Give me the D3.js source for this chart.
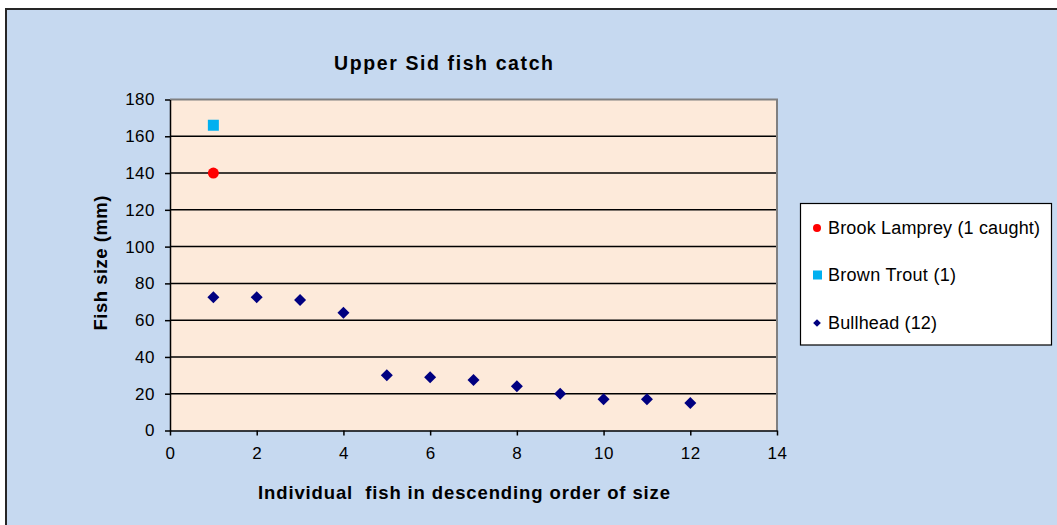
<!DOCTYPE html>
<html><head><meta charset="utf-8">
<script src="https://cdn.jsdelivr.net/npm/d3@7"></script>
<style>
html,body{margin:0;padding:0;background:#fff;overflow:hidden;}
text{font-family:"Liberation Sans",Arial,sans-serif;fill:#000;}
</style></head>
<body>
<svg id="chart" width="1057" height="525"></svg>
<script>
const title = "Upper Sid fish catch";
const xTitle = "Individual  fish in descending order of size";
const yTitle = "Fish size (mm)";
const xTicks = [0, 2, 4, 6, 8, 10, 12, 14];
const yTicks = [0, 20, 40, 60, 80, 100, 120, 140, 160, 180];

const lampreyX = [1];
const lampreyY = [140];
const troutX = [1];
const troutY = [166];
const bullheadX = [1, 2, 3, 4, 5, 6, 7, 8, 9, 10, 11, 12];
const bullheadY = [72.5, 72.5, 71, 64, 30, 29, 27.5, 24, 20, 17, 17, 15];

const seriesNames = ["Brook Lamprey (1 caught)", "Brown Trout (1)", "Bullhead (12)"];
const seriesColors = ["#FF0000", "#00B0F0", "#000080"];

const svg = d3.select("#chart");
svg.append("rect").attr("x",6).attr("y",9).attr("width",1100).attr("height",600)
  .attr("fill","#C6D9F0").attr("stroke","#262626").attr("stroke-width",2);

const L = 170, R = 777, T = 99.5, B = 430.5;
const x = d3.scaleLinear().domain([0,14]).range([L,R]);
const y = d3.scaleLinear().domain([0,180]).range([B,T]);

svg.append("rect").attr("x",L).attr("y",T).attr("width",R-L).attr("height",B-T).attr("fill","#FDEADA");

// gridlines
svg.append("g").selectAll("line").data(yTicks.filter(d=>d>0 && d<180)).join("line")
  .attr("x1",L).attr("x2",R).attr("y1",d=>y(d)).attr("y2",d=>y(d))
  .attr("stroke","#000").attr("stroke-width",1.5);
// top/right border
svg.append("path").attr("d",`M${L},${T}H${R}V${B}`).attr("fill","none").attr("stroke","#808080").attr("stroke-width",2);

// axes
const yAxis = svg.append("g").attr("transform",`translate(${L},0)`)
  .call(d3.axisLeft(y).tickValues(yTicks).tickSize(5).tickPadding(10).tickSizeOuter(0));
const xAxis = svg.append("g").attr("transform",`translate(0,${B})`)
  .call(d3.axisBottom(x).tickValues(xTicks).tickSize(5).tickPadding(11).tickSizeOuter(0));
[yAxis,xAxis].forEach(a=>{
  a.select(".domain").attr("stroke","#000").attr("stroke-width",1.5);
  a.selectAll(".tick line").attr("stroke","#000").attr("stroke-width",1.5);
  a.selectAll("text").attr("font-family","Liberation Sans, Arial, sans-serif")
    .attr("font-size",17).attr("fill","#000").style("letter-spacing","0.5px");
});
xAxis.selectAll("text").attr("dy","0.71em");

// marks
const diamond = d3.symbol().type(d3.symbolSquare).size(72);
svg.append("g").selectAll("path").data(bullheadX.map((d,i)=>[d,bullheadY[i]])).join("path")
  .attr("d",diamond).attr("transform",d=>`translate(${x(d[0])},${y(d[1])}) rotate(45)`)
  .attr("fill",seriesColors[2]);
svg.append("g").selectAll("rect").data(troutX.map((d,i)=>[d,troutY[i]])).join("rect")
  .attr("x",d=>x(d[0])-5.5).attr("y",d=>y(d[1])-5.5).attr("width",11).attr("height",11)
  .attr("fill",seriesColors[1]);
svg.append("g").selectAll("circle").data(lampreyX.map((d,i)=>[d,lampreyY[i]])).join("circle")
  .attr("cx",d=>x(d[0])).attr("cy",d=>y(d[1])).attr("r",5.5)
  .attr("fill",seriesColors[0]);

// titles
svg.append("text").attr("x",443.5).attr("y",70).attr("text-anchor","middle")
  .attr("font-size",19.5).attr("font-weight","bold").attr("textLength",219).attr("lengthAdjust","spacing").text(title);
svg.append("text").attr("x",464).attr("y",499).attr("text-anchor","middle")
  .attr("font-size",18.5).attr("font-weight","bold").attr("textLength",412).attr("lengthAdjust","spacing")
  .style("white-space","pre").text(xTitle);
svg.append("text").attr("transform","translate(107,263) rotate(-90)").attr("text-anchor","middle")
  .attr("font-size",18.5).attr("font-weight","bold").attr("textLength",135).attr("lengthAdjust","spacing").text(yTitle);

// legend
const lg = svg.append("g");
lg.append("rect").attr("x",800.5).attr("y",203.5).attr("width",251).attr("height",141.5)
  .attr("fill","#fff").attr("stroke","#000").attr("stroke-width",1.2);
const rows = [228, 275, 323];
const legendWidths = [212, 128, 109];
seriesNames.forEach((n,i)=>{
  const cy = rows[i];
  if(i===0) lg.append("circle").attr("cx",817).attr("cy",cy).attr("r",4).attr("fill",seriesColors[0]);
  if(i===1) lg.append("rect").attr("x",813).attr("y",cy-4.5).attr("width",9).attr("height",9).attr("fill",seriesColors[1]);
  if(i===2) lg.append("path").attr("d",d3.symbol().type(d3.symbolSquare).size(30)).attr("transform",`translate(817,${cy}) rotate(45)`).attr("fill",seriesColors[2]);
  lg.append("text").attr("x",828).attr("y",cy+6).attr("font-size",18).attr("textLength",legendWidths[i]).attr("lengthAdjust","spacing").text(n);
});
</script>
</body></html>
